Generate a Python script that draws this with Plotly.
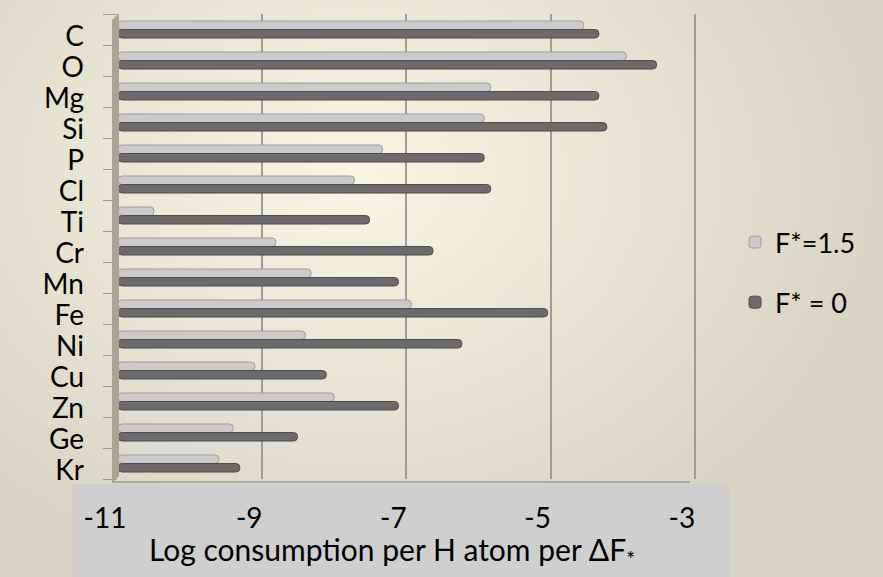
import base64
import struct
import zlib

import numpy as np
import plotly.graph_objects as go

elements = ["C", "O", "Mg", "Si", "P", "Cl", "Ti", "Cr", "Mn", "Fe", "Ni", "Cu", "Zn", "Ge", "Kr"]
f15 = [-4.54, -3.95, -5.83, -5.92, -7.33, -7.72, -10.5, -8.81, -8.32, -6.93, -8.40, -9.10, -8.00, -9.40, -9.60]
f0 = [-4.33, -3.53, -4.33, -4.22, -5.92, -5.83, -7.51, -6.63, -7.11, -5.04, -6.23, -8.11, -7.11, -8.51, -9.31]
x_ticks = [-11, -9, -7, -5, -3]
base = -11

W, H = 883, 577
L, R, T, B = 118, 697, 14, 479  # plot area in pixels


def px(xp):
    return (xp - L) / (R - L)


def py(yp):
    return (B - yp) / (B - T)


def gradient_png(w, h):
    # radial cream gradient like the slide background
    yy, xx = np.mgrid[0:h, 0:w]
    cx, cy = 0.40 * w, 0.30 * h
    d = np.sqrt(((xx - cx) / (0.62 * w)) ** 2 + ((yy - cy) / (0.75 * h)) ** 2)
    d = np.clip(d, 0, 1)[..., None]
    inner = np.array([250, 246, 228], float)
    outer = np.array([216, 212, 196], float)
    img = (inner * (1 - d) + outer * d).astype(np.uint8)
    raw = b"".join(b"\x00" + img[r].tobytes() for r in range(h))

    def chunk(tag, data):
        c = struct.pack(">I", len(data)) + tag + data
        return c + struct.pack(">I", zlib.crc32(tag + data) & 0xFFFFFFFF)

    png = b"\x89PNG\r\n\x1a\n"
    png += chunk(b"IHDR", struct.pack(">IIBBBBB", w, h, 8, 2, 0, 0, 0))
    png += chunk(b"IDAT", zlib.compress(raw, 9))
    png += chunk(b"IEND", b"")
    return "data:image/png;base64," + base64.b64encode(png).decode()


font = "Lato, 'Open Sans', sans-serif"

fig = go.Figure()
fig.add_trace(go.Bar(
    y=elements, x=[v - base for v in f15], base=base, orientation="h",
    name="F*=1.5", legendgroup="a",
    marker=dict(color="#cbcbcb", line=dict(color="#9e9e9e", width=1), cornerradius=4),
))
fig.add_trace(go.Bar(
    y=elements, x=[v - base for v in f0], base=base, orientation="h",
    name="F* = 0", legendgroup="b",
    marker=dict(color="#6b6b6b", line=dict(color="#4e4e4e", width=1), cornerradius=4),
))

shapes = [
    # grey band behind x labels
    dict(type="rect", xref="paper", yref="paper", layer="below",
         x0=px(72), x1=px(730), y0=py(484), y1=py(577),
         fillcolor="#cfcfcf", line=dict(width=0)),
    # left wall
    dict(type="path", xref="paper", yref="paper", layer="above",
         path=f"M {px(112)} {py(20)} L {px(119)} {py(13)} L {px(119)} {py(476)} L {px(112)} {py(483)} Z",
         fillcolor="#a8a596", line=dict(width=0)),
    # floor line
    dict(type="line", xref="paper", yref="paper", layer="above",
         x0=px(112), x1=px(690), y0=py(482), y1=py(482),
         line=dict(color="#9a9a9a", width=1.5)),
]

fig.update_layout(
    width=W, height=H,
    margin=dict(l=L, r=W - R, t=T, b=H - B),
    paper_bgcolor="#dcd8c6",
    plot_bgcolor="rgba(0,0,0,0)",
    barmode="group", bargap=0.45, bargroupgap=0,
    font=dict(family=font, color="#000000"),
    images=[dict(source=gradient_png(221, 144), xref="paper", yref="paper",
                 x=px(0), y=py(0), sizex=W / (R - L), sizey=H / (B - T),
                 sizing="stretch", xanchor="left", yanchor="top", layer="below")],
    shapes=shapes,
    showlegend=True,
    legend=dict(x=px(735), y=py(218), xanchor="left", yanchor="top",
                font=dict(size=27), tracegroupgap=22, bgcolor="rgba(0,0,0,0)"),
    annotations=[dict(text="Log consumption per H atom per ΔF<sub>*</sub>",
                      xref="paper", yref="paper", x=px(392), y=py(551),
                      xanchor="center", yanchor="middle", showarrow=False,
                      font=dict(size=30))],
)
fig.update_xaxes(
    range=[-11, -2.97], tickvals=x_ticks, ticktext=[str(v) for v in x_ticks],
    showgrid=True, gridcolor="#9c9c9c", gridwidth=1.5, zeroline=False,
    showline=False, ticks="", tickfont=dict(size=28), automargin=False,
    ticklabelstandoff=20, ticklabelshift=-13,
)
fig.update_yaxes(
    autorange="reversed", type="category", automargin=False,
    tickmode="array", tickvals=elements, ticktext=elements,
    ticks="outside", tickson="boundaries", ticklen=14, tickcolor="#9a9a9a",
    showgrid=False, showline=False, tickfont=dict(size=28),
    ticklabelstandoff=33, ticklabelshift=-7,
)

# the page's default 8px body margin would shift the whole chart
fig.write_html("out.html", config={"displayModeBar": False},
               post_script="document.body.style.margin = '0';")
